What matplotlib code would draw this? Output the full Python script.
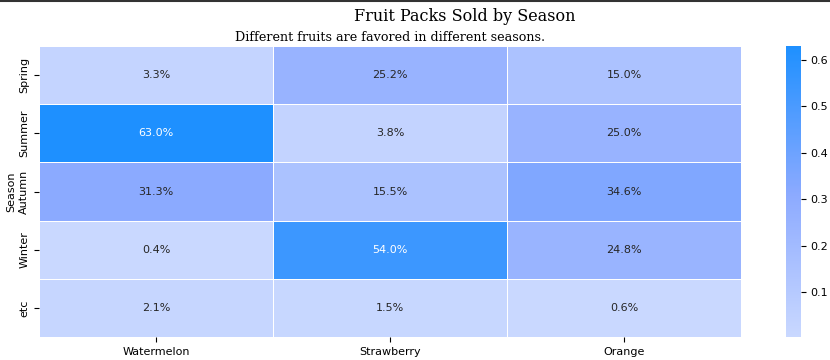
import numpy as np
import pandas as pd
import seaborn as sns
import matplotlib.pyplot as plt
from matplotlib.colors import LinearSegmentedColormap
from matplotlib.lines import Line2D

seasons = ["Spring", "Summer", "Autumn", "Winter", "etc"]
fruits = ["Watermelon", "Strawberry", "Orange"]
watermelon = [0.033, 0.630, 0.313, 0.004, 0.021]
strawberry = [0.252, 0.038, 0.155, 0.540, 0.015]
orange = [0.150, 0.250, 0.346, 0.248, 0.006]

df = pd.DataFrame({"Watermelon": watermelon, "Strawberry": strawberry, "Orange": orange},
                  index=pd.Index(seasons, name="Season"))

cmap = LinearSegmentedColormap.from_list(
    "fruit", [(0.0, "#c9d8ff"), (0.49, "#8caaff"), (1.0, "#1e90ff")])

fig = plt.figure(figsize=(8.3, 3.6), dpi=100)
ax = fig.add_axes([0.047, 0.064, 0.846, 0.808])
cax = fig.add_axes([0.947, 0.064, 0.018, 0.808])

sns.heatmap(df, ax=ax, cbar_ax=cax, cmap=cmap, annot=True, fmt=".1%",
            linewidths=0.5, linecolor="white", annot_kws={"fontsize": 8})

# only the two darkest cells get white text
for txt in ax.texts:
    val = float(txt.get_text().rstrip("%")) / 100
    txt.set_color("white" if val > 0.5 else "#262626")

ax.set_xlabel("")
ax.set_ylabel("Season", fontsize=8, labelpad=2)
ax.tick_params(labelsize=8)
cax.tick_params(labelsize=8)
cax.set_frame_on(False)

ax.set_title("Different fruits are favored in different seasons.",
             family="DejaVu Serif", fontsize=9.2, pad=4)
fig.text(0.56, 0.955, "Fruit Packs Sold by Season", family="DejaVu Serif",
         fontsize=11.5, ha="center", va="center")

# dark line along the top edge
fig.add_artist(Line2D([0, 1], [0.998, 0.998], color="#333333", linewidth=1.5,
                      transform=fig.transFigure))

plt.savefig("out.png")
